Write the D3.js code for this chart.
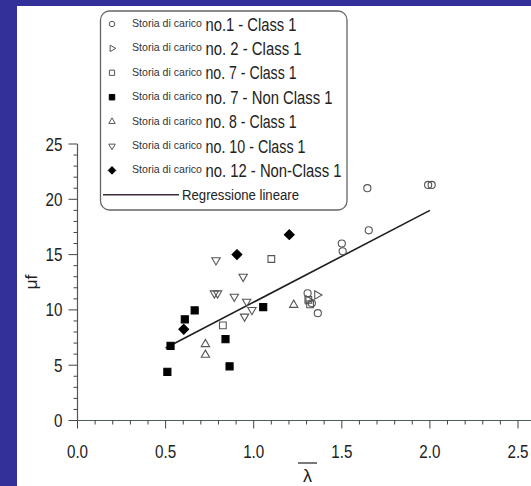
<!DOCTYPE html>
<html><head><meta charset="utf-8">
<script src="https://cdn.jsdelivr.net/npm/d3@7"></script>
<style>html,body{margin:0;padding:0;background:#33309a;}svg{display:block;}</style>
</head><body>
<script>
// ---- data ----
const s1x = [1.645, 1.99, 2.01, 1.653, 1.50, 1.505, 1.306, 1.364, 1.33];
const s1y = [21.0, 21.3, 21.3, 17.2, 16.0, 15.3, 11.5, 9.7, 10.6];
const s2x = [1.36, 1.31];
const s2y = [11.35, 10.9];
const s3x = [1.10, 0.825, 1.32, 1.31];
const s3y = [14.6, 8.6, 10.5, 10.9];
const s4x = [0.51, 0.528, 0.609, 0.665, 0.84, 0.863, 1.054];
const s4y = [4.4, 6.75, 9.15, 9.95, 7.35, 4.9, 10.25];
const s5x = [0.726, 0.726, 1.227];
const s5y = [6.9, 5.93, 10.45];
const s6x = [0.786, 0.777, 0.795, 0.94, 0.89, 0.96, 0.948, 0.99];
const s6y = [14.5, 11.5, 11.5, 13.0, 11.2, 10.75, 9.4, 10.0];
const s7x = [0.603, 0.905, 1.202];
const s7y = [8.25, 15.0, 16.8];
const regX = [0.5, 2.0];
const regY = [6.55, 19.0];
const legendSmall = "Storia di carico";
const legendLabels = ["no.1 - Class 1", "no. 2 - Class 1", "no. 7 - Class 1", "no. 7 - Non Class 1",
  "no. 8 - Class 1", "no. 10 - Class 1", "no. 12 - Non-Class 1"];
const regLabel = "Regressione lineare";
const xTicks = [0.0, 0.5, 1.0, 1.5, 2.0, 2.5];
const yTicks = [0, 5, 10, 15, 20, 25];

// ---- layout ----
const W = 531, H = 486;
const svg = d3.select("body").append("svg").attr("width", W).attr("height", H);
svg.append("rect").attr("width", W).attr("height", H).attr("fill", "#33309a");
svg.append("rect").attr("x", 17).attr("y", 6).attr("width", W - 17).attr("height", H - 6).attr("fill", "#ffffff");

const x = d3.scaleLinear().domain([0, 2.5]).range([77.5, 518]);
const y = d3.scaleLinear().domain([0, 25]).range([420.5, 144]);
const FONT = "'Liberation Sans',Arial,sans-serif";

// axes
const gx = svg.append("g").attr("transform", `translate(0,${y(0)})`);
gx.append("line").attr("x1", x(0)).attr("x2", W).attr("stroke", "#4d5c5a").attr("stroke-width", 1.2);
const xMinor = d3.range(0, 26).map(i => i / 10);
gx.selectAll("line.mn").data(xMinor).join("line").attr("class", "mn")
  .attr("x1", d => x(d)).attr("x2", d => x(d)).attr("y1", 0)
  .attr("y2", d => (Math.round(d * 10) % 5 === 0) ? 8 : 4)
  .attr("stroke", "#444").attr("stroke-width", 1);
gx.selectAll("text").data(xTicks).join("text")
  .attr("transform", d => `translate(${x(d)},37) scale(0.95,1.12)`).attr("text-anchor", "middle")
  .attr("font-family", FONT).attr("font-size", 16).attr("fill", "#222")
  .text(d => d3.format(".1f")(d));

const gy = svg.append("g").attr("transform", `translate(${x(0)},0)`);
gy.append("line").attr("y1", y(0)).attr("y2", y(25)).attr("stroke", "#555").attr("stroke-width", 1.2);
const yMinor = d3.range(0, 26);
gy.selectAll("line.mn").data(yMinor).join("line").attr("class", "mn")
  .attr("y1", d => y(d)).attr("y2", d => y(d)).attr("x1", 0)
  .attr("x2", d => d % 5 === 0 ? -9 : -4)
  .attr("stroke", "#444").attr("stroke-width", 1);
gy.selectAll("text").data(yTicks).join("text")
  .attr("transform", d => `translate(-15,${y(d) + 6.5}) scale(0.95,1.12)`).attr("text-anchor", "end")
  .attr("font-family", FONT).attr("font-size", 16).attr("fill", "#222")
  .text(d => d);

// axis titles
svg.append("text").attr("transform", `translate(37,282) rotate(-90) scale(1.1,1)`).attr("text-anchor", "middle")
  .attr("font-family", FONT).attr("font-size", 16).attr("fill", "#222").text("μf");
svg.append("text").attr("x", 307.5).attr("y", 482).attr("text-anchor", "middle")
  .attr("font-family", FONT).attr("font-size", 18).attr("fill", "#222").text("λ");
svg.append("line").attr("x1", 298).attr("x2", 317).attr("y1", 463).attr("y2", 463)
  .attr("stroke", "#222").attr("stroke-width", 1.2);

// symbols
const diamondType = {
  draw(ctx, size) {
    const r = Math.sqrt(size / 2);
    ctx.moveTo(0, -r); ctx.lineTo(r, 0); ctx.lineTo(0, r); ctx.lineTo(-r, 0); ctx.closePath();
  }
};
const series = [
  {xs: s1x, ys: s1y, type: d3.symbolCircle, size: 40, fill: "none", rot: 0},
  {xs: s2x, ys: s2y, type: d3.symbolTriangle, size: 30, fill: "none", rot: 90},
  {xs: s3x, ys: s3y, type: d3.symbolSquare, size: 45, fill: "none", rot: 0},
  {xs: s4x, ys: s4y, type: d3.symbolSquare, size: 50, fill: "#000", rot: 0},
  {xs: s5x, ys: s5y, type: d3.symbolTriangle, size: 30, fill: "none", rot: 0},
  {xs: s6x, ys: s6y, type: d3.symbolTriangle, size: 30, fill: "none", rot: 180},
  {xs: s7x, ys: s7y, type: diamondType, size: 48, fill: "#000", rot: 0}
];

// regression line
svg.append("line").attr("x1", x(regX[0])).attr("y1", y(regY[0])).attr("x2", x(regX[1])).attr("y2", y(regY[1]))
  .attr("stroke", "#1e1e1e").attr("stroke-width", 1.6);

series.forEach(s => {
  const pts = s.xs.map((v, i) => [v, s.ys[i]]);
  svg.append("g").selectAll("path").data(pts).join("path")
    .attr("d", d3.symbol().type(s.type).size(s.size))
    .attr("transform", d => `translate(${x(d[0])},${y(d[1])}) rotate(${s.rot})`)
    .attr("fill", s.fill).attr("stroke", s.fill === "none" ? "#555" : "#000").attr("stroke-width", 1.1);
});

// legend
const lg = svg.append("g");
lg.append("rect").attr("x", 100.5).attr("y", 11).attr("width", 246.5).attr("height", 199).attr("rx", 9)
  .attr("fill", "#fff").attr("stroke", "#666").attr("stroke-width", 1.3);
const rowY = d3.range(7).map(i => 24 + i * 24.4);
legendLabels.forEach((lab, i) => {
  const s = series[i];
  const cy = rowY[i];
  lg.append("path").attr("d", d3.symbol().type(s.type).size(s.size * 0.6)())
    .attr("transform", `translate(112,${cy}) rotate(${s.rot})`)
    .attr("fill", s.fill).attr("stroke", s.fill === "none" ? "#555" : "#000").attr("stroke-width", 1);
  lg.append("text").attr("x", 132).attr("y", cy + 3).attr("font-family", FONT)
    .attr("font-size", 10.5).attr("fill", "#333").attr("textLength", 70).attr("lengthAdjust", "spacingAndGlyphs")
    .text(legendSmall);
  const bigW = [91, 96, 91, 127, 91, 100, 136][i];
  lg.append("text").attr("x", 205.5).attr("y", cy + 6.5).attr("font-family", FONT)
    .attr("font-size", 17.5).attr("fill", "#222").attr("textLength", bigW).attr("lengthAdjust", "spacingAndGlyphs")
    .text(lab);
});
const ry = 24 + 7 * 24.4;
lg.append("line").attr("x1", 103).attr("x2", 179).attr("y1", ry).attr("y2", ry).attr("stroke", "#3b2b3b").attr("stroke-width", 1.6);
lg.append("text").attr("x", 182).attr("y", ry + 5.5).attr("font-family", FONT)
  .attr("font-size", 15.5).attr("fill", "#222").attr("textLength", 117).attr("lengthAdjust", "spacingAndGlyphs")
  .text(regLabel);
</script>
</body></html>
